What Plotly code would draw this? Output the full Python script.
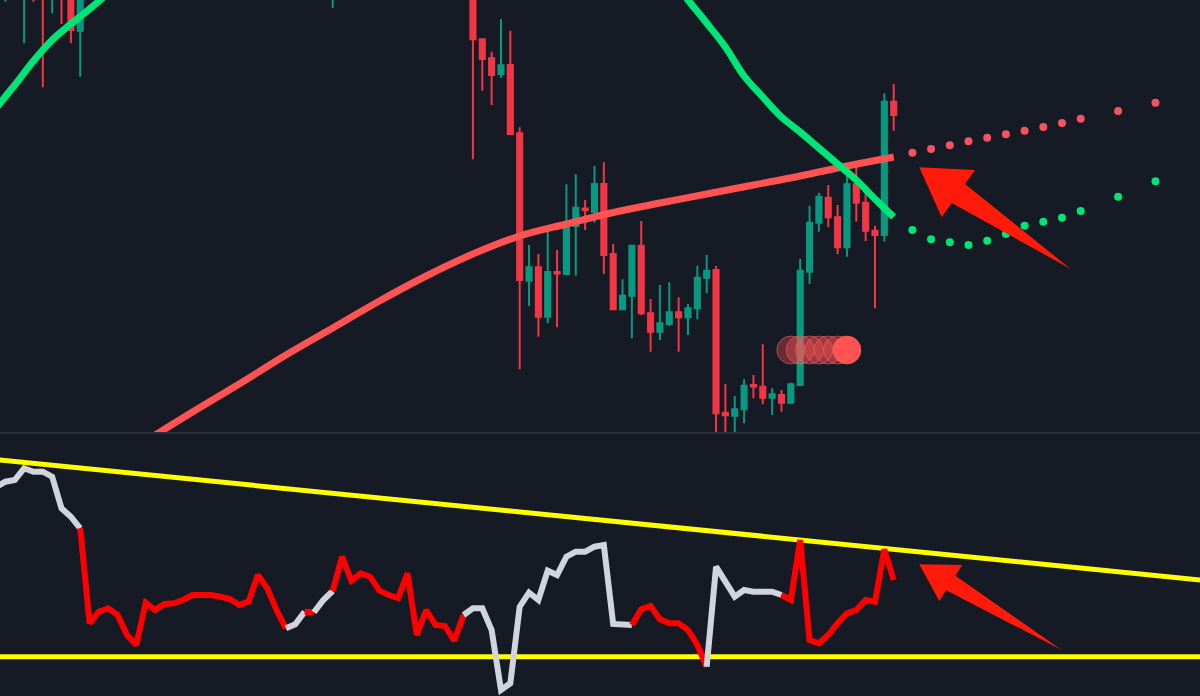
import plotly.graph_objects as go

# ---------------- DATA ----------------
# candles (bar index, OHLC in price units)
candle_bar = [-55, -53, -52, -51, -50, -49, -48, -47, -20,
              -5, -4, -3, -2, -1, 0, 1, 2, 3, 4, 5, 6, 7, 8, 9, 10, 11, 12, 13, 14, 15,
              16, 17, 18, 19, 20, 21, 22, 23, 24, 25, 26, 27, 28, 29, 30, 31, 32, 33,
              34, 35, 36, 37, 38, 39, 40]
candle_open = [720, 715, 740, 745, 712, 735, 720, 669.3, 712,
               715, 660.7, 641.7, 626, 635, 566.7, 419.3, 432.7, 383.3, 428, 426, 474, 491.5, 488.3, 516, 446, 390.7, 404.3, 454.3, 386.7, 368.3,
               376, 387.7, 382.7, 391.7, 422.3, 430, 287.3, 284.3, 290.7, 315, 313.3, 302.3, 305, 297.3, 315, 428.3, 477.3, 502.3,
               482.7, 452.7, 515.7, 497.3, 469.3, 465, 598.3]
candle_high = [745, 740, 745, 750, 735, 740, 725, 718, 730,
               720, 660.7, 648.3, 680.7, 669.3, 572.7, 455, 446, 471, 450, 515.7, 525.7, 500, 534, 537.7, 456, 420.7, 455, 479, 401, 415,
               417.7, 402.7, 396, 434.3, 445, 434, 316, 304, 320.7, 325, 355.7, 311.7, 310, 317.3, 441, 494.3, 507.3, 515,
               495, 536.7, 536.7, 508.3, 474.3, 606.7, 616]
candle_low = [698.3, 656.7, 698.3, 612.7, 686.7, 676, 656.7, 623.3, 692,
              540.7, 609.3, 595, 622.3, 566, 330.7, 394, 363.3, 376.7, 372.7, 426, 424.3, 470, 477.3, 426, 390.7, 390.7, 361.7, 385, 348.3, 360,
              374, 348.3, 365, 380.7, 406.7, 262, 262, 266, 276.7, 301.7, 295.7, 285, 288.3, 296.7, 315, 416, 468.3, 472.7,
              445.7, 443.3, 478.3, 459, 391.7, 458.3, 569.3]
candle_close = [740, 735, 720, 715, 730, 710, 670, 712, 725,
                660.7, 641, 625, 634.7, 566, 420, 432.7, 383.3, 428, 426.5, 474, 492.3, 490, 516, 445, 390.7, 404.3, 454.3, 386.7, 368.3, 376.7,
                387.7, 382.7, 391.7, 422.3, 429.3, 286.7, 284.7, 290.7, 314.3, 313.5, 302.3, 305.7, 297.3, 315.7, 429.3, 477.3, 503.3, 482.7,
                452.7, 515.7, 497.3, 469.3, 465, 598.3, 585]

# slow moving average (red)
ma_red_bar = [-40, -35, -30, -25, -20, -15, -10, -5, 0, 5, 10, 15, 20, 25, 30, 35, 40]
ma_red_val = [259, 288, 316, 345, 372, 399, 424, 446, 464, 476, 487.5, 497, 506, 515, 524, 534, 543]

# faster moving average (green), gap where it is far above the view
ma_green_bar = [-56, -54, -52, -50, -48, -46, -44, None, 17, 18, 20, 22, 24, 26, 28, 30, 32, 34, 36, 38, 40]
ma_green_val = [592, 615, 639, 660, 676, 691, 707, None, 712, 700, 677, 653, 624, 603, 583, 568, 552, 536, 520, 501, 483]

# projections
proj_bar = [42, 44, 46, 48, 50, 52, 54, 56, 58, 60, 64, 68]
proj_red = [547.3, 551, 554.7, 558.7, 562.3, 565.7, 569.3, 573, 577, 581.3, 589, 597.3]
proj_green = [470, 460.7, 457.7, 455, 459.3, 466, 474.3, 478.3, 482.3, 489, 503.3, 518.7]

# signal circles
signal_bar = [29, 30, 31, 32, 33, 34, 35]
signal_val = [350, 350, 350, 350, 350, 350, 350]

# oscillator (bars -56 .. 40)
osc_bar = list(range(-56, 41))
osc_val = [209, 214.3, 216, 227.7, 224.3, 224.3, 219.3, 187.7, 179.3, 167.7,
           72.7, 84.3, 87.7, 81, 61, 51, 93.3, 86, 92, 92.7,
           96, 101, 101, 101, 99.3, 97, 91, 94.3, 121, 107.7,
           86, 67.7, 71.7, 84.3, 83.7, 96, 105, 139.3, 115.3, 122.7,
           119.3, 105.3, 101, 98, 122.7, 61, 86, 71, 70, 55.3,
           81, 87.7, 87.7, 66, 6, 12.7, 89.3, 103.3, 96, 125.3,
           121, 139.3, 144.3, 144.3, 149.3, 151, 72, 72, 71, 86.7,
           90, 76.7, 72.7, 72.7, 66, 51, 29.3, 129.3, 114.3, 99.3,
           106, 104.3, 104.3, 104.3, 101, 96, 156, 56, 52.7, 61,
           72.7, 82.7, 86, 96, 94.3, 146.7, 116]
# colour state changes (bar where a new colour starts)
osc_runs = [(-56, 'w'), (-47, 'r'), (-25, 'w'), (-23, 'r'), (-22, 'w'), (-20, 'r'),
            (-6, 'w'), (12, 'r'), (20, 'w'), (28, 'r')]

# trend lines on the oscillator
trend_upper_bar = [-56, 73]
trend_upper_val = [236.4, 115.8]
trend_lower_bar = [-56, 73]
trend_lower_val = [39.3, 39.3]

# ---------------- STYLE ----------------
W, H = 1200, 696
BG = '#161a25'
C_UP = '#089981'
C_DN = '#f23645'
C_MA_RED = '#ff5252'
C_MA_GREEN = '#00e676'
C_OSC = {'w': '#d1d4dc', 'r': '#ff0000'}
X_RANGE = [-55.58, 72.76]
TOP_DOMAIN = [1 - 432 / H, 1]
BOT_DOMAIN = [0, 1 - 434 / H]

fig = go.Figure()

# moving averages
fig.add_trace(go.Scatter(x=ma_red_bar, y=ma_red_val, mode='lines',
                         line=dict(color=C_MA_RED, width=7, shape='spline'),
                         xaxis='x', yaxis='y', hoverinfo='skip'))
fig.add_trace(go.Scatter(x=ma_green_bar, y=ma_green_val, mode='lines', connectgaps=False,
                         line=dict(color=C_MA_GREEN, width=7, shape='spline'),
                         xaxis='x', yaxis='y', hoverinfo='skip'))

# signal circles
sig_colors = ['rgba(255,82,82,0.35)'] * (len(signal_bar) - 1) + ['#ff5252']
fig.add_trace(go.Scatter(x=signal_bar, y=signal_val, mode='markers',
                         marker=dict(size=28, color=sig_colors,
                                     line=dict(color='rgba(255,100,100,0.55)', width=1)),
                         xaxis='x', yaxis='y', hoverinfo='skip'))

# candles
fig.add_trace(go.Candlestick(x=candle_bar, open=candle_open, high=candle_high,
                             low=candle_low, close=candle_close,
                             increasing=dict(line=dict(color=C_UP, width=2), fillcolor=C_UP),
                             decreasing=dict(line=dict(color=C_DN, width=2), fillcolor=C_DN),
                             whiskerwidth=0, xaxis='x', yaxis='y', hoverinfo='skip'))

# projection dots
fig.add_trace(go.Scatter(x=proj_bar, y=proj_red, mode='markers',
                         marker=dict(size=8, color='#f7525f'), xaxis='x', yaxis='y'))
fig.add_trace(go.Scatter(x=proj_bar, y=proj_green, mode='markers',
                         marker=dict(size=8, color=C_MA_GREEN), xaxis='x', yaxis='y'))

# trend lines (bottom pane)
fig.add_trace(go.Scatter(x=trend_upper_bar, y=trend_upper_val, mode='lines',
                         line=dict(color='#ffff00', width=5), xaxis='x2', yaxis='y2'))
fig.add_trace(go.Scatter(x=trend_lower_bar, y=trend_lower_val, mode='lines',
                         line=dict(color='#ffff00', width=5), xaxis='x2', yaxis='y2'))

# oscillator, coloured by runs
start_idx = {b: i for i, b in enumerate(osc_bar)}
for j, (b0, col) in enumerate(osc_runs):
    i0 = start_idx[b0]
    i1 = start_idx[osc_runs[j + 1][0]] if j + 1 < len(osc_runs) else len(osc_bar) - 1
    fig.add_trace(go.Scatter(x=osc_bar[i0:i1 + 1], y=osc_val[i0:i1 + 1], mode='lines',
                             line=dict(color=C_OSC[col], width=6),
                             xaxis='x2', yaxis='y2', hoverinfo='skip'))

# arrows (pixel geometry -> paper)
arrow_upper = [(919.3, 167.3), (975, 170), (965, 184), (1070.7, 269), (951.7, 203), (941.7, 217.3)]
arrow_lower = [(919.3, 564.3), (962.3, 565), (955.4, 575.8), (1061.7, 650), (946.2, 590.2), (939.3, 601)]


def to_path(pts):
    s = ''
    for i, (px, py) in enumerate(pts):
        s += ('M' if i == 0 else 'L') + f'{px / W:.5f},{1 - py / H:.5f} '
    return s + 'Z'


shapes = [
    dict(type='line', xref='paper', yref='paper', x0=0, x1=1, y0=1 - 433 / H, y1=1 - 433 / H,
         line=dict(color='#2a2e39', width=2)),
]
for a in (arrow_upper, arrow_lower):
    shapes.append(dict(type='path', xref='paper', yref='paper', path=to_path(a),
                       fillcolor='#ff1a0a', line=dict(width=0), layer='above'))

fig.update_layout(
    width=W, height=H, margin=dict(l=0, r=0, t=0, b=0),
    paper_bgcolor=BG, plot_bgcolor=BG, showlegend=False, boxgap=0.22,
    xaxis=dict(domain=[0, 1], range=X_RANGE, visible=False, anchor='y',
               rangeslider=dict(visible=False)),
    yaxis=dict(domain=TOP_DOMAIN, range=[268, 700], visible=False, anchor='x'),
    xaxis2=dict(domain=[0, 1], range=X_RANGE, visible=False, anchor='y2'),
    yaxis2=dict(domain=BOT_DOMAIN, range=[0, 262], visible=False, anchor='x2'),
    shapes=shapes,
)

fig.write_html('out.html', config={'displayModeBar': False},
               post_script="document.body.style.margin='0';document.body.style.overflow='hidden';"
                           "document.body.style.background='" + BG + "';")
